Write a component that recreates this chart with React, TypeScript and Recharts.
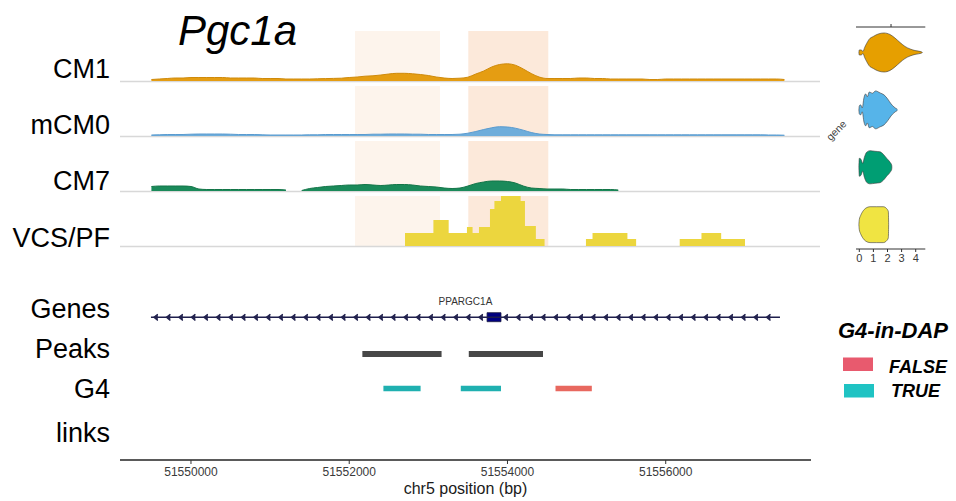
import React from 'react';
import {
  AreaChart,
  Area,
  ComposedChart,
  XAxis,
  YAxis,
  ReferenceArea,
  ReferenceLine,
  ReferenceDot,
  Scatter,
} from 'recharts';

const FONT = '"Liberation Sans", Arial, Helvetica, sans-serif';

// ---------- data ----------
// 100 bp coverage bins (bin start, bp)
const binStarts: number[] = Array.from({ length: 81 }, (_, i) => 51549500 + i * 100);

const cm1Signal = [
  1.5, 2, 2.5, 3, 3, 3.5, 3.5, 3.5, 3.5, 3.5,
  3, 3, 3, 3, 2.5, 2.5, 2.5, 2, 2, 2,
  2, 2.2, 2.4, 2.6, 2.8, 3.5, 4, 4.8, 5.2, 6,
  7, 7.7, 7.7, 7.2, 6.5, 5.5, 4, 3, 2.5, 2.8,
  3.8, 7, 10, 14, 16.5, 17.2, 15.8, 12, 7.5, 4,
  2.5, 2.5, 2.5, 2.5, 3, 3, 2.5, 2.5, 2, 2,
  2, 2, 2, 1.5, 1.5, 2, 2, 2, 2, 2,
  2, 2, 2, 2, 2, 2, 2, 2, 2, 2, 1.5,
];

const mcm0Signal = [
  1, 1.2, 1.5, 1.5, 1.5, 1.8, 2, 2, 2, 2,
  1.8, 1.5, 1.5, 1.5, 1.2, 1, 1, 1, 1, 1,
  1.2, 1.2, 1.5, 1.5, 1.5, 1.5, 1.5, 1.5, 1.8, 1.8,
  2, 2, 2, 1.8, 1.8, 1.5, 1.5, 1.5, 1.5, 1.8,
  2.8, 4.5, 6.5, 8.2, 9.3, 9, 7.8, 5.8, 3.5, 2,
  1.5, 1.2, 1.2, 1.2, 1.2, 1.2, 1.2, 1.2, 1.2, 1.2,
  1.2, 1.2, 1.2, 1.2, 1.2, 1.2, 1.2, 1.2, 1.2, 1.2,
  1.2, 1.2, 1.2, 1.2, 1.2, 1.2, 1.2, 1.2, 1, 1, 0.8,
];

const cm7Signal: (number | null)[] = [
  4.5, 5, 5, 5, 5, 4.5, 2, 1.5, 1.5, 1.5,
  1.5, 1.5, 1.5, 1.5, 1.5, 1.5, 1.5, 1, null, 0.5,
  2.5, 3.5, 4.5, 5, 5.5, 6, 6, 6.5, 6, 5.5,
  6, 6.5, 6.5, 6, 5, 4.5, 4, 3, 2.5, 3,
  5, 7.5, 9, 10, 10, 9.5, 8, 5, 3, 2.5,
  2, 2, 2, 1.5, 1.5, 1.5, 1.5, 1.5, 1.5, 1,
  null, null, null, null, null, null, null, null, null, null,
  null, null, null, null, null, null, null, null, null, null, null,
];

// VCS/PF is a stepped (binned) track
const vcsStepStarts = [
  51549500, 51552705, 51553064, 51553257, 51553488, 51553559, 51553640,
  51553779, 51553835, 51553918, 51554166, 51554221, 51554359, 51554469,
  51554992, 51555075, 51555516, 51555626, 51556177, 51556452, 51556701,
  51557002, 51557500,
];
const vcsSignal = [
  0, 13, 26, 13, 19, 13, 19,
  37, 45, 50, 45, 20, 7, 0,
  7, 13, 7, 0, 7, 13, 7,
  0, 0,
];

const trackNames = ['CM1', 'mCM0', 'CM7', 'VCS/PF'];
const lowerTrackNames = ['Genes', 'Peaks', 'G4', 'links'];

const highlightStarts = [51552073, 51553505];
const highlightEnds = [51553147, 51554516];

const geneName = 'PPARGC1A';
const geneStart = 51549494;
const geneEnd = 51557444;
const exonStarts = [51553742];
const exonEnds = [51553918];

const peakStarts = [51552166, 51553511];
const peakEnds = [51553167, 51554449];

const g4Starts = [51552432, 51553410, 51554607];
const g4Ends = [51552902, 51553918, 51555066];
const g4InDap = [true, true, false];
const legendLabels = ['FALSE', 'TRUE'];

const axisTicks = [51550000, 51552000, 51554000, 51556000];

// violins: expression value and scaled density
const violinNames = ['CM1', 'mCM0', 'CM7', 'VCS/PF'];
const violinValues = [
  [-0.03, 0, 0.14, 0.26, 0.38, 0.52, 0.69, 0.99, 1.35, 1.75, 2.18, 2.53, 2.89, 3.24, 3.6, 3.95, 4.43, 4.47],
  [-0.03, 0, 0.09, 0.21, 0.33, 0.45, 0.57, 0.71, 0.92, 1.16, 1.47, 1.75, 2.01, 2.25, 2.46, 2.7],
  [-0.03, 0, 0.12, 0.24, 0.36, 0.52, 0.76, 1.11, 1.47, 1.7, 1.94, 2.18, 2.3, 2.31],
  [-0.03, 0, 0.09, 0.24, 0.47, 0.76, 1.23, 1.7, 1.94, 2.06, 2.08],
];
const violinDensity = [
  [0, 0.13, 0.13, 0.05, 0.26, 0.46, 0.67, 0.82, 0.95, 1.0, 0.92, 0.74, 0.51, 0.31, 0.18, 0.1, 0.03, 0],
  [0, 0.2, 0.26, 0.1, 0.62, 0.82, 0.67, 0.92, 0.85, 0.97, 0.87, 0.77, 0.56, 0.31, 0.15, 0.03],
  [0, 0.46, 0.41, 0.2, 0.51, 0.77, 0.85, 0.82, 0.79, 0.67, 0.46, 0.26, 0.1, 0],
  [0, 0.26, 0.46, 0.67, 0.85, 0.92, 0.92, 0.92, 0.82, 0.67, 0],
];
const violinTicks = [0, 1, 2, 3, 4];
const violinTopTicks = [2.25];

// ---------- layout / style ----------
const TRACK_MIN = 51549103;
const TRACK_MAX = 51557950;
const AXIS_MAX = 51557836;

const trackColors = ['#e59d12', '#6eaddb', '#1a8a5a', '#ecd63e'];
const trackStrokes = ['#cf8a0a', '#5a9bcf', '#137548', 'none'];
const trackBases = [81, 136, 191, 246];
const TRACK_H = 50;
const highlightColors = ['#fdf4ec', '#fce9da'];
const violinFills = ['#E69F00', '#56B4E9', '#009E73', '#F0E442'];
const VIOLIN_HALF = 0.34;

const trackRows = [cm1Signal, mcm0Signal, cm7Signal].map((sig) =>
  binStarts.map((pos, i) => ({ pos, value: sig[i] }))
);
const vcsRows = vcsStepStarts.map((pos, i) => ({ pos, value: vcsSignal[i] }));

const chevronStep = 158;
const chevrons: { x: number; y: number }[] = [];
const GENE_Y = 142.7;
for (let p = geneStart + 64; p < geneEnd - 20; p += chevronStep) {
  const inExon = exonStarts.some((s, i) => p > s - 40 && p < exonEnds[i] + 40);
  if (!inExon) chevrons.push({ x: p, y: GENE_Y });
}

const violinRows = violinValues.map((vals, k) =>
  vals.map((v, i) => ({
    v,
    range: [k + 1 - violinDensity[k][i] * VIOLIN_HALF, k + 1 + violinDensity[k][i] * VIOLIN_HALF],
  }))
);

const Chevron = (props: any) => {
  const { cx, cy } = props;
  if (cx == null || cy == null) return null;
  return (
    <path
      d={`M${cx + 1.8},${cy - 3.2} L${cx - 2.2},${cy} L${cx + 1.8},${cy + 3.2}`}
      fill="#23234f"
      stroke="#23234f"
      strokeWidth={1.2}
    />
  );
};

const EmptyTick = () => <g />;

function Track({ rows, idx, step }: { rows: any[]; idx: number; step?: boolean }) {
  return (
    <div style={{ position: 'absolute', left: 0, top: trackBases[idx] - TRACK_H, width: 956, height: TRACK_H }}>
      <AreaChart width={956} height={TRACK_H} data={rows} margin={{ top: 0, right: 136, bottom: 0, left: 120 }}>
        <XAxis dataKey="pos" type="number" domain={[TRACK_MIN, TRACK_MAX]} hide allowDataOverflow />
        <YAxis type="number" domain={[0, TRACK_H]} hide allowDataOverflow />
        <Area
          dataKey="value"
          type={step ? 'stepAfter' : 'monotone'}
          fill={trackColors[idx]}
          fillOpacity={1}
          stroke={trackStrokes[idx]}
          strokeWidth={1}
          baseValue={0}
          dot={false}
          activeDot={false}
          isAnimationActive={false}
        />
      </AreaChart>
    </div>
  );
}

export default function App() {
  return (
    <div
      style={{
        position: 'absolute',
        left: 0,
        top: 0,
        width: 956,
        height: 501,
        background: '#ffffff',
        fontFamily: FONT,
        overflow: 'hidden',
      }}
    >
      {/* highlights + baselines */}
      <div style={{ position: 'absolute', left: 0, top: 0 }}>
        <ComposedChart width={956} height={260} margin={{ top: 0, right: 136, bottom: 0, left: 120 }}>
          <XAxis type="number" dataKey="x" domain={[TRACK_MIN, TRACK_MAX]} hide allowDataOverflow />
          <YAxis type="number" domain={[0, 260]} reversed hide allowDataOverflow />
          {trackBases.map((b, t) =>
            highlightStarts.map((s, i) => (
              <ReferenceArea
                key={`hl-${t}-${i}`}
                x1={s}
                x2={highlightEnds[i]}
                y1={b - TRACK_H}
                y2={b}
                fill={highlightColors[i]}
                fillOpacity={1}
                stroke="none"
              />
            ))
          )}
          {trackBases.map((b, t) => (
            <ReferenceLine key={`bl-${t}`} y={b + 0.5} stroke="#d8d8d8" strokeWidth={1.5} />
          ))}
        </ComposedChart>
      </div>

      {trackRows.map((rows, i) => (
        <Track key={i} rows={rows} idx={i} />
      ))}
      <Track rows={vcsRows} idx={3} step />

      {/* genes / peaks / G4 + genomic axis */}
      <div style={{ position: 'absolute', left: 0, top: 280 }}>
        <ComposedChart width={956} height={221} margin={{ top: 0, right: 145, bottom: 0, left: 120 }}>
          <XAxis
            type="number"
            dataKey="x"
            domain={[TRACK_MIN, AXIS_MAX]}
            ticks={axisTicks}
            interval={0}
            height={41}
            allowDataOverflow
            axisLine={{ stroke: '#5a5a5a', strokeWidth: 2 }}
            tickLine={{ stroke: '#333333' }}
            tickSize={4}
            tickMargin={3}
            tick={{ fontSize: 12, fill: '#3a3a3a' }}
            label={{ value: 'chr5 position (bp)', position: 'insideBottom', offset: 7, fontSize: 16, fill: '#1a1a1a' }}
          />
          <YAxis type="number" dataKey="y" domain={[0, 180]} hide allowDataOverflow />
          <ReferenceLine
            segment={[
              { x: geneStart, y: GENE_Y },
              { x: geneEnd, y: GENE_Y },
            ]}
            stroke="#1f1f4d"
            strokeWidth={1.5}
          />
          <Scatter data={chevrons} shape={Chevron} isAnimationActive={false} />
          {exonStarts.map((s, i) => (
            <ReferenceArea
              key={`ex-${i}`}
              x1={s}
              x2={exonEnds[i]}
              y1={138.3}
              y2={147.3}
              fill="#000080"
              fillOpacity={1}
              stroke="#1a1a40"
              strokeWidth={0.8}
            />
          ))}
          {peakStarts.map((s, i) => (
            <ReferenceArea
              key={`pk-${i}`}
              x1={s}
              x2={peakEnds[i]}
              y1={103}
              y2={109}
              fill="#474747"
              fillOpacity={1}
              stroke="none"
            />
          ))}
          {g4Starts.map((s, i) => (
            <ReferenceArea
              key={`g4-${i}`}
              x1={s}
              x2={g4Ends[i]}
              y1={68.7}
              y2={74.3}
              fill={g4InDap[i] ? '#1fb0b0' : '#e8685f'}
              fillOpacity={1}
              stroke="none"
            />
          ))}
          <ReferenceDot
            x={(geneStart + geneEnd) / 2}
            y={159}
            r={0}
            fill="none"
            stroke="none"
            label={{ value: geneName, position: 'center', fontSize: 10, fill: '#333333' }}
          />
        </ComposedChart>
      </div>

      {/* violins */}
      <div style={{ position: 'absolute', left: 820, top: 0 }}>
        <ComposedChart width={136} height={270} margin={{ top: 17, right: 30.7, bottom: 3, left: 36 }}>
          <XAxis
            xAxisId="b"
            type="number"
            dataKey="v"
            domain={[-0.234, 4.68]}
            ticks={violinTicks}
            interval={0}
            orientation="bottom"
            height={18}
            tickSize={3}
            tickMargin={2}
            allowDataOverflow
            axisLine={{ stroke: '#333333' }}
            tickLine={{ stroke: '#333333' }}
            tick={{ fontSize: 11, fill: '#3a3a3a' }}
          />
          <XAxis
            xAxisId="t"
            type="number"
            dataKey="v"
            domain={[-0.234, 4.68]}
            ticks={violinTopTicks}
            interval={0}
            orientation="top"
            height={10}
            tickSize={3}
            tick={EmptyTick}
            allowDataOverflow
            axisLine={{ stroke: '#333333' }}
            tickLine={{ stroke: '#333333' }}
          />
          <YAxis type="number" domain={[0.556, 4.424]} reversed hide allowDataOverflow />
          {violinRows.map((rows, k) => (
            <Area
              key={violinNames[k]}
              name={violinNames[k]}
              xAxisId="b"
              data={rows}
              dataKey="range"
              type="monotone"
              fill={violinFills[k]}
              fillOpacity={1}
              stroke="#3a3a3a"
              strokeWidth={0.6}
              dot={false}
              activeDot={false}
              isAnimationActive={false}
            />
          ))}
        </ComposedChart>
      </div>

      {/* text overlay */}
      <svg width={956} height={501} style={{ position: 'absolute', left: 0, top: 0, pointerEvents: 'none' }}>
        <text x={178} y={45} fontSize={42} fontStyle="italic" fill="#000">
          Pgc1a
        </text>
        {trackNames.map((n, i) => (
          <text key={n} x={110} y={[78.3, 134.3, 190, 246.7][i]} textAnchor="end" fontSize={27} fill="#000">
            {n}
          </text>
        ))}
        {lowerTrackNames.map((n, i) => (
          <text key={n} x={110} y={[318.3, 358.3, 398.3, 441.7][i]} textAnchor="end" fontSize={27} fill="#000">
            {n}
          </text>
        ))}
        <text
          transform="translate(837,131) rotate(-45)"
          textAnchor="middle"
          dominantBaseline="middle"
          fontSize={10.5}
          fill="#444444"
        >
          gene
        </text>
        <text x={838} y={338} fontSize={22} fontWeight="bold" fontStyle="italic" fill="#000">
          G4-in-DAP
        </text>
        <rect x={843} y={357.5} width={30} height={13.5} fill="#e85a6e" />
        <text x={889} y={373} fontSize={18} fontWeight="bold" fontStyle="italic" fill="#000">
          {legendLabels[0]}
        </text>
        <rect x={844} y={384} width={30} height={13.5} fill="#1fc3c3" />
        <text x={891} y={397.3} fontSize={18} fontWeight="bold" fontStyle="italic" fill="#000">
          {legendLabels[1]}
        </text>
      </svg>
    </div>
  );
}
